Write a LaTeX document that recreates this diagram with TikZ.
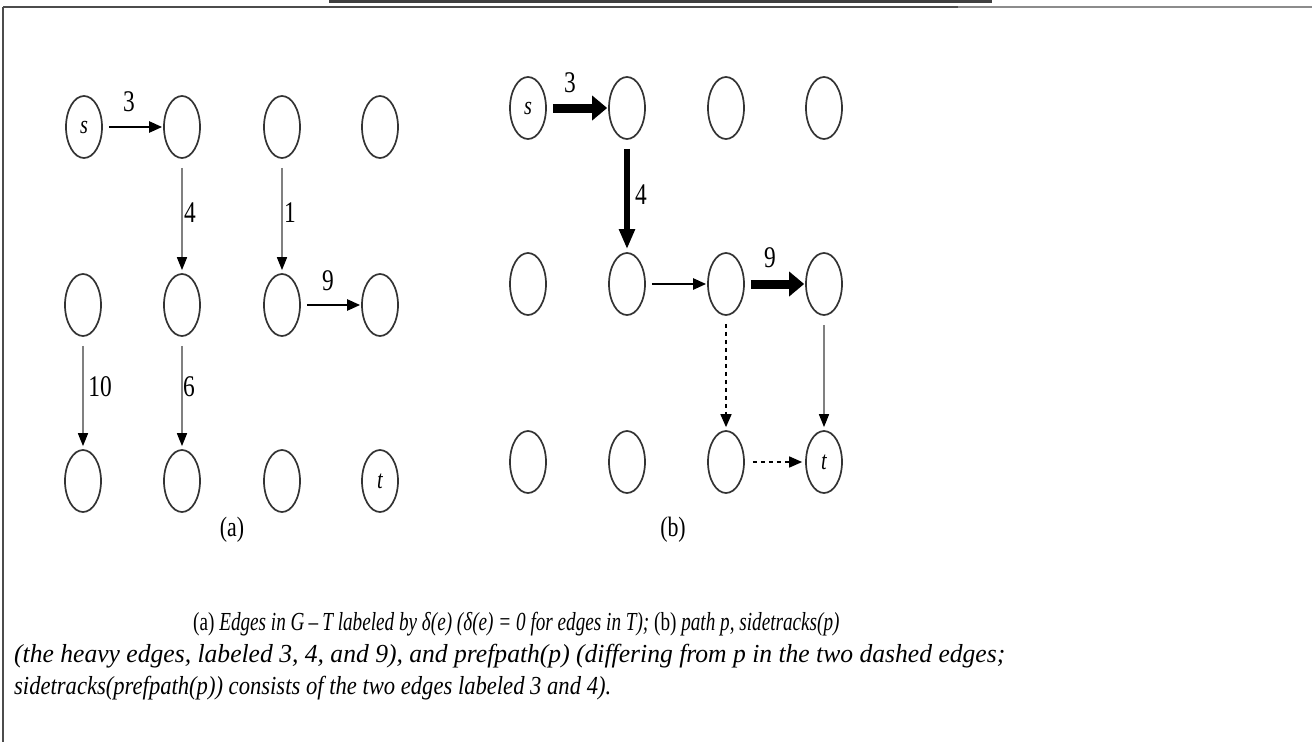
\documentclass[tikz,border=0pt]{standalone}
\usepackage{fontspec}
\setmainfont{Liberation Serif}
\newfontfamily\cond[FakeStretch=0.78]{Liberation Serif}
\usetikzlibrary{shapes.geometric,arrows.meta}
\tikzset{
  vtx/.style={ellipse, draw=black!80, line width=1.7pt, minimum width=36pt, minimum height=62pt, inner sep=0pt, font=\cond\itshape\fontsize{26}{28}\selectfont},
  elab/.style={font=\cond\fontsize{30}{32}\selectfont, inner sep=0pt},
  normedge/.style={draw=black, line width=2.4pt, -{Triangle[length=13pt,width=11pt]}, shorten <=6pt, shorten >=1pt},
  thinedge/.style={draw=black!50, line width=1.6pt, -{Triangle[length=13pt,width=10pt,black]}, shorten <=9pt, shorten >=3pt},
  heavyedge/.style={draw=black, line width=9pt, -{Triangle[length=15pt,width=24pt]}, shorten <=6pt, shorten >=1pt},
  heavyvedge/.style={draw=black, line width=6pt, -{Triangle[length=20pt,width=15pt]}, shorten <=9pt, shorten >=3pt},
  dotedge/.style={draw=black, line width=1.6pt, dash pattern=on 4pt off 4pt, -{Triangle[length=13pt,width=11pt]}, shorten <=8pt, shorten >=3pt},
  captxt/.style={anchor=base west, inner sep=0pt, font=\cond\fontsize{26}{28}\selectfont},
  sublab/.style={font=\cond\fontsize{28}{30}\selectfont, inner sep=0pt}
}
\begin{document}
\begin{tikzpicture}[x=1pt,y=-1pt]
\useasboundingbox (0,0) rectangle (1312,742);
% frame
\draw[line width=2.6pt, black!75] (329,1.3) -- (992,1.3);
\draw[line width=2pt, black!70] (3,6.5) -- (958,6.5);
\draw[line width=2pt, black!45] (958,6.5) -- (1312,6.5);
\draw[line width=2pt, black!70] (3,6.5) -- (3,742);

% graph (a)
\node[vtx] (as) at (84,127) {s};
\node[vtx] (a12) at (182,127) {};
\node[vtx] (a13) at (282,127) {};
\node[vtx] (a14) at (380,127) {};
\node[vtx] (a21) at (83,305) {};
\node[vtx] (a22) at (182,305) {};
\node[vtx] (a23) at (282,305) {};
\node[vtx] (a24) at (380,305) {};
\node[vtx] (a31) at (83,481) {};
\node[vtx] (a32) at (182,481) {};
\node[vtx] (a33) at (282,481) {};
\node[vtx] (at) at (380,481) {t};
\draw[normedge] (as) -- (a12);
\draw[thinedge] (a12) -- (a22);
\draw[thinedge] (a13) -- (a23);
\draw[normedge] (a23) -- (a24);
\draw[thinedge] (a21) -- (a31);
\draw[thinedge] (a22) -- (a32);
\node[elab] (la3) at (129,102) {3};
\node[elab] (la4) at (190,213) {4};
\node[elab] (la1) at (290,213) {1};
\node[elab] (la9) at (328,281) {9};
\node[elab] (la10) at (100,387) {10};
\node[elab] (la6) at (189,387) {6};
\node[sublab] (capa) at (232,530) {(a)};

% graph (b)
\node[vtx] (bs) at (528,108) {s};
\node[vtx] (b12) at (627,108) {};
\node[vtx] (b13) at (726,108) {};
\node[vtx] (b14) at (824,108) {};
\node[vtx] (b21) at (528,284) {};
\node[vtx] (b22) at (627,284) {};
\node[vtx] (b23) at (726,284) {};
\node[vtx] (b24) at (824,284) {};
\node[vtx] (b31) at (528,462) {};
\node[vtx] (b32) at (627,462) {};
\node[vtx] (b33) at (726,462) {};
\node[vtx] (bt) at (824,462) {t};
\draw[heavyedge] (bs) -- (b12);
\draw[heavyvedge] (b12) -- (b22);
\draw[normedge] (b22) -- (b23);
\draw[heavyedge] (b23) -- (b24);
\draw[dotedge] (b23) -- (b33);
\draw[thinedge] (b24) -- (bt);
\draw[dotedge] (b33) -- (bt);
\node[elab] (lb3) at (570,83) {3};
\node[elab] (lb4) at (641,195) {4};
\node[elab] (lb9) at (770,258) {9};
\node[sublab] (capb) at (673,530) {(b)};

% caption
\node[captxt] (c1) at (193,630) {\scalebox{0.946}[1]{(a) \itshape Edges in G\,\textendash\,T labeled by δ(e) (δ(e) = 0 for edges in T); \upshape(b) \itshape path p, sidetracks(p)}};
\node[captxt] (c2) at (14,662) {\scalebox{1.262}[1]{\itshape (the heavy edges, labeled 3, 4, and 9), and prefpath(p) (differing from p in the two dashed edges;}};
\node[captxt] (c3) at (14,694) {\scalebox{1.115}[1]{\itshape sidetracks(prefpath(p)) consists of the two edges labeled 3 and 4).}};
\end{tikzpicture}
\end{document}
